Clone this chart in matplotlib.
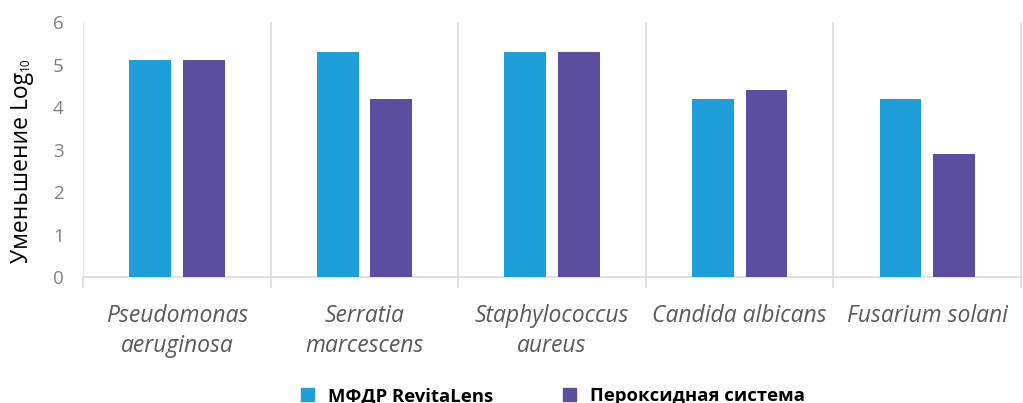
import matplotlib
matplotlib.use("Agg")
import matplotlib.pyplot as plt
from matplotlib.patches import Patch
import numpy as np

categories = ["Pseudomonas\naeruginosa", "Serratia\nmarcescens", "Staphylococcus\naureus",
              "Candida albicans", "Fusarium solani"]
series_names = ["МФДР RevitaLens", "Пероксидная система"]
revitalens = [5.1, 5.3, 5.3, 4.2, 4.2]
peroxide = [5.1, 4.2, 5.3, 4.4, 2.9]
yticks = [0, 1, 2, 3, 4, 5, 6]

colors = ["#1f9fd9", "#5c4e9e"]
grid_c = "#d9d9d9"

W, H = 1023, 403
fig = plt.figure(figsize=(W/100, H/100), dpi=100)
ax = fig.add_axes([83/W, 1-277/H, 940/W, 255/H])

x = np.arange(len(categories))
w = 0.223
off = 0.143
ax.bar(x - off, revitalens, width=w, color=colors[0], zorder=3)
ax.bar(x + off, peroxide, width=w, color=colors[1], zorder=3)

ax.set_xlim(-0.5, len(categories) - 0.5 + 0.01)
ax.set_ylim(0, 6)
ax.set_yticks(yticks)
ax.set_yticklabels([str(t) for t in yticks], fontsize=13.5, color="#808080", family="Open Sans")
ax.tick_params(axis="y", length=0, pad=14)

for b in np.arange(-0.5, len(categories), 1.0):
    ax.axvline(b, color=grid_c, lw=1.1, zorder=1)
ax.set_xticks(np.arange(-0.5, len(categories), 1.0), minor=True)
ax.tick_params(axis="x", which="minor", length=8, width=1.1, color=grid_c)
ax.set_xticks(x)
ax.set_xticklabels(categories, fontsize=16.5, color="#595959", family="Open Sans",
                   style="italic", linespacing=1.35)
ax.tick_params(axis="x", which="major", length=0, pad=19.5)

for s in ["top", "right", "left"]:
    ax.spines[s].set_visible(False)
ax.spines["bottom"].set_color(grid_c)
ax.spines["bottom"].set_linewidth(1.1)

# y label with small subscript
ylab = fig.text(22/W, 1-263/H, "Уменьшение Log", rotation=90, fontsize=16.5,
                family="Open Sans", ha="center", va="bottom", color="#000000")
fig.canvas.draw()
bb = ylab.get_window_extent(fig.canvas.get_renderer())
fig.text((bb.x1 - 2)/W, (bb.y1 + 1)/H, "10", rotation=90, fontsize=8.5,
         family="Open Sans", ha="right", va="bottom", color="#000000")

handles = [Patch(color=colors[0]), Patch(color=colors[1])]
fig.legend(handles, series_names, loc="center", bbox_to_anchor=(553/W, 1-396/H),
           ncol=2, frameon=False, handlelength=0.7, handleheight=0.7, handletextpad=0.75,
           columnspacing=3.75, prop={"family": "Open Sans", "weight": "bold", "size": 13.3})

fig.savefig("out.png", dpi=100)
